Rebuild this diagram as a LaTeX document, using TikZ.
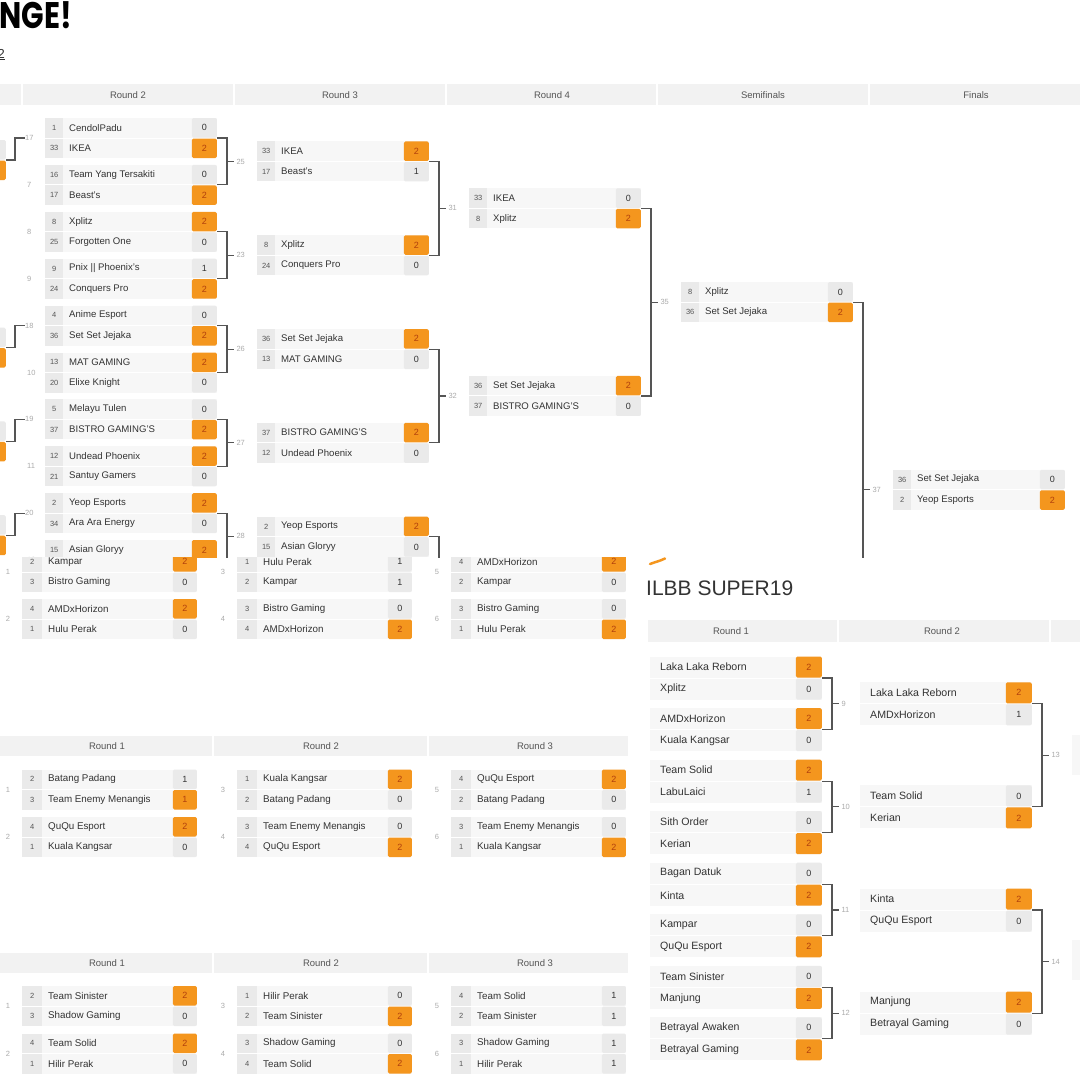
\documentclass[tikz,border=0pt]{standalone}
\usepackage{fontspec}
\setmainfont{Liberation Sans}
\newfontfamily\titlefont{Poppins}
\usepackage{xcolor}
\usepackage{graphicx}
\usetikzlibrary{calc}

\definecolor{headgray}{HTML}{F2F2F2}
\definecolor{rowgray}{HTML}{F7F7F7}
\definecolor{boxgray}{HTML}{EAEAEA}
\definecolor{winfill}{HTML}{F4961E}
\definecolor{wintext}{HTML}{B13F0C}
\definecolor{txt}{HTML}{333333}
\definecolor{seedtxt}{HTML}{555555}
\definecolor{numc}{HTML}{ABABAB}
\definecolor{connc}{HTML}{555555}

% row geometry, changed per bracket block
\def\roww{172pt}\def\rowh{19.5pt}\def\seedw{18pt}\def\namex{24pt}\def\scorew{25pt}\def\rowoff{10.25}
\def\namefont{\fontsize{9.6}{11}\selectfont}

\tikzset{
  rowbg/.style={fill=rowgray, minimum width=\roww, minimum height=\rowh, inner sep=0pt, outer sep=0pt},
  seedbox/.style={fill=boxgray, text=seedtxt, font=\fontsize{7.5}{8}\selectfont, minimum width=\seedw, minimum height=\rowh, inner sep=0pt},
  teamname/.style={text=txt, font=\namefont, inner sep=0pt, xshift=\namex},
  lose/.style={fill=boxgray, text=txt, rounded corners=1.5pt, font=\fontsize{9}{10}\selectfont, minimum width=\scorew, minimum height=\rowh, inner sep=0pt},
  win/.style={lose, fill=winfill, text=wintext},
  conn/.style={draw=connc, line width=1.1pt},
  mnum/.style={text=numc, font=\fontsize{7.5}{8}\selectfont, inner sep=0pt},
  headtxt/.style={text=seedtxt, font=\fontsize{9.5}{11}\selectfont},
}

% one team line: node, x, y, then seed/team/score/style
\def\teamrow#1#2#3#4/#5/#6/#7\relax{%
  \node [rowbg, anchor=west] (#1) at (#2, #3) {};
  \ifx\relax#4\relax\else \node [seedbox, anchor=west] at (#1.west) {#4};\fi
  \node [teamname, anchor=west] at (#1.west) {#5};
  \node [#7, anchor=east] (#1s) at (#1.east) {#6};
}
\newcommand{\game}[5]{%
  \teamrow{#1a}{#2}{#3-\rowoff}#4\relax
  \teamrow{#1b}{#2}{#3+\rowoff}#5\relax
  \coordinate (#1) at ($(#1a.east)!.5!(#1b.east)$);
}
\newcommand{\bracket}[3]{%
  \draw [conn] (#1) -- ++(10, 0) |- (#2);
  \draw [conn] ($(#1)!.5!(#2)+(10, 0)$) -- ++(7, 0) node [mnum, right=2pt] {#3};
}

\begin{document}
\begin{tikzpicture}[x=1pt, y=-1pt]
    \useasboundingbox (0, 0) rectangle (1080, 1080);
    \fill [white] (0, 0) rectangle (1080, 1080);

    \begin{scope}
    \clip (0, 0) rectangle (1080, 557);
    \node [anchor=base east, text=black, inner sep=0pt, font=\titlefont\bfseries\fontsize{37}{37}\selectfont] (ttl) at (72, 28) {\scalebox{0.8}[1]{NGE!}};
    \node [anchor=base east, text=txt, inner sep=0pt, font=\fontsize{13}{14}\selectfont] (lnk) at (5, 58) {\underline{2}};

    \fill [headgray] (0, 84) rectangle (1080, 105);
    \foreach \x in {22, 234, 446, 657, 869}
        \draw [white, line width=1.5pt] (\x, 84) -- (\x, 105);
    \node [headtxt] (hr2) at (128, 95) {Round 2};
    \node [headtxt] (hr3) at (340, 95) {Round 3};
    \node [headtxt] (hr4) at (552, 95) {Round 4};
    \node [headtxt] (hsf) at (763, 95) {Semifinals};
    \node [headtxt] (hfi) at (976, 95) {Finals};

    \foreach \n/\c in {17/160, 18/347.6, 19/441.4, 20/535.2} {
        \node [lose, anchor=east] (q\n a) at (6, \c-10.25) {};
        \node [win, anchor=east] (q\n b) at (6, \c+10.25) {};
        \node [mnum, anchor=west] (n\n) at (25, \c-22) {\n};
        \draw [conn] ($(q\n a.east)!.5!(q\n b.east)$) -- ++(9, 0) |- (n\n.west);
    }
    \foreach \n/\c in {7/184.9, 8/231.8, 9/278.7, 10/372.5, 11/466.3, 12/560.1}
        \node [mnum, anchor=west] (n\n) at (27, \c) {\n};

    \game{m17}{45}{138}{1/CendolPadu/0/lose}{33/IKEA/2/win}
    \game{m7}{45}{184.9}{16/Team Yang Tersakiti/0/lose}{17/Beast's/2/win}
    \game{m8}{45}{231.8}{8/Xplitz/2/win}{25/Forgotten One/0/lose}
    \game{m9}{45}{278.7}{9/Pnix || Phoenix's/1/lose}{24/Conquers Pro/2/win}
    \game{m18}{45}{325.6}{4/Anime Esport/0/lose}{36/Set Set Jejaka/2/win}
    \game{m10}{45}{372.5}{13/MAT GAMING/2/win}{20/Elixe Knight/0/lose}
    \game{m19}{45}{419.4}{5/Melayu Tulen/0/lose}{37/BISTRO GAMING'S/2/win}
    \game{m11}{45}{466.3}{12/Undead Phoenix/2/win}{21/Santuy Gamers/0/lose}
    \game{m20}{45}{513.2}{2/Yeop Esports/2/win}{34/Ara Ara Energy/0/lose}
    \teamrow{m12a}{45}{549.85}15/Asian Gloryy/2/win\relax
    \coordinate (m12) at (m12a.south east);

    \bracket{m17}{m7}{25}
    \bracket{m8}{m9}{23}
    \bracket{m18}{m10}{26}
    \bracket{m19}{m11}{27}
    \bracket{m20}{m12}{28}

    \game{m25}{257}{161.45}{33/IKEA/2/win}{17/Beast's/1/lose}
    \game{m23}{257}{255.25}{8/Xplitz/2/win}{24/Conquers Pro/0/lose}
    \game{m26}{257}{349.05}{36/Set Set Jejaka/2/win}{13/MAT GAMING/0/lose}
    \game{m27}{257}{442.85}{37/BISTRO GAMING'S/2/win}{12/Undead Phoenix/0/lose}
    \game{m28}{257}{536.65}{2/Yeop Esports/2/win}{15/Asian Gloryy/0/lose}

    \bracket{m25}{m23}{31}
    \bracket{m26}{m27}{32}
    \draw [conn] (m28) -- ++(10, 0) -- ++(0, 40);

    \game{m31}{469}{208.35}{33/IKEA/0/lose}{8/Xplitz/2/win}
    \game{m32}{469}{395.95}{36/Set Set Jejaka/2/win}{37/BISTRO GAMING'S/0/lose}
    \bracket{m31}{m32}{35}

    \game{m35}{681}{302.15}{8/Xplitz/0/lose}{36/Set Set Jejaka/2/win}
    \coordinate (m36) at ($(m35)+(0, 375.2)$);
    \bracket{m35}{m36}{37}

    \game{m37}{893}{489.75}{36/Set Set Jejaka/0/lose}{2/Yeop Esports/2/win}
    \end{scope}

    \begin{scope}
    \clip (0, 557) rectangle (645, 1080);
    \def\roww{175pt}\def\seedw{20pt}\def\namex{26pt}\def\scorew{24pt}
    \def\namefont{\fontsize{9.8}{11}\selectfont}

    \game{k1}{22}{572}{2/Kampar/2/win}{3/Bistro Gaming/0/lose}
    \game{k2}{22}{619}{4/AMDxHorizon/2/win}{1/Hulu Perak/0/lose}
    \game{k3}{237}{572}{1/Hulu Perak/1/lose}{2/Kampar/1/lose}
    \game{k4}{237}{619}{3/Bistro Gaming/0/lose}{4/AMDxHorizon/2/win}
    \game{k5}{451}{572}{4/AMDxHorizon/2/win}{2/Kampar/0/lose}
    \game{k6}{451}{619}{3/Bistro Gaming/0/lose}{1/Hulu Perak/2/win}
    \foreach \n/\x/\y in {1/8/572, 2/8/619, 3/223/572, 4/223/619, 5/437/572, 6/437/619}
        \node [mnum] (kn\n) at (\x, \y) {\n};

    \fill [headgray] (0, 736) rectangle (628, 756);
    \foreach \x in {213, 428}
        \draw [white, line width=1.5pt] (\x, 736) -- (\x, 756);
    \node [headtxt] (hb1) at (107, 746) {Round 1};
    \node [headtxt] (hb2) at (321, 746) {Round 2};
    \node [headtxt] (hb3) at (535, 746) {Round 3};

    \game{b1}{22}{789.5}{2/Batang Padang/1/lose}{3/Team Enemy Menangis/1/win}
    \game{b2}{22}{837}{4/QuQu Esport/2/win}{1/Kuala Kangsar/0/lose}
    \game{b3}{237}{789.5}{1/Kuala Kangsar/2/win}{2/Batang Padang/0/lose}
    \game{b4}{237}{837}{3/Team Enemy Menangis/0/lose}{4/QuQu Esport/2/win}
    \game{b5}{451}{789.5}{4/QuQu Esport/2/win}{2/Batang Padang/0/lose}
    \game{b6}{451}{837}{3/Team Enemy Menangis/0/lose}{1/Kuala Kangsar/2/win}
    \foreach \n/\x/\y in {1/8/789.5, 2/8/837, 3/223/789.5, 4/223/837, 5/437/789.5, 6/437/837}
        \node [mnum] (bn\n) at (\x, \y) {\n};

    \fill [headgray] (0, 953) rectangle (628, 973);
    \foreach \x in {213, 428}
        \draw [white, line width=1.5pt] (\x, 953) -- (\x, 973);
    \node [headtxt] (hs1) at (107, 963) {Round 1};
    \node [headtxt] (hs2) at (321, 963) {Round 2};
    \node [headtxt] (hs3) at (535, 963) {Round 3};

    \game{s1}{22}{1006}{2/Team Sinister/2/win}{3/Shadow Gaming/0/lose}
    \game{s2}{22}{1053.5}{4/Team Solid/2/win}{1/Hilir Perak/0/lose}
    \game{s3}{237}{1006}{1/Hilir Perak/0/lose}{2/Team Sinister/2/win}
    \game{s4}{237}{1053.5}{3/Shadow Gaming/0/lose}{4/Team Solid/2/win}
    \game{s5}{451}{1006}{4/Team Solid/1/lose}{2/Team Sinister/1/lose}
    \game{s6}{451}{1053.5}{3/Shadow Gaming/1/lose}{1/Hilir Perak/1/lose}
    \foreach \n/\x/\y in {1/8/1006, 2/8/1053.5, 3/223/1006, 4/223/1053.5, 5/437/1006, 6/437/1053.5}
        \node [mnum] (sn\n) at (\x, \y) {\n};
    \end{scope}

    \begin{scope}
    \clip (645, 557) rectangle (1080, 1080);
    \def\roww{172pt}\def\rowh{21pt}\def\namex{10pt}\def\scorew{26pt}\def\rowoff{11}
    \def\namefont{\fontsize{10.6}{12}\selectfont}

    \draw [winfill, line width=2.5pt, line cap=round] (650, 564) .. controls (655, 562) and (660, 561) .. (665, 558.5);
    \node [anchor=base west, text=txt, inner sep=0pt, font=\fontsize{21}{24}\selectfont] (lbb) at (646, 595) {ILBB SUPER19};

    \fill [headgray] (648, 620) rectangle (1080, 642);
    \foreach \x in {838, 1050}
        \draw [white, line width=1.5pt] (\x, 620) -- (\x, 642);
    \node [headtxt] (hp1) at (731, 631) {Round 1};
    \node [headtxt] (hp2) at (942, 631) {Round 2};
    \fill [rowgray] (1072, 735) rectangle (1080, 775);
    \fill [rowgray] (1072, 940) rectangle (1080, 980);

    \game{p1}{650}{678}{/Laka Laka Reborn/2/win}{/Xplitz/0/lose}
    \game{p2}{650}{729.55}{/AMDxHorizon/2/win}{/Kuala Kangsar/0/lose}
    \game{p3}{650}{781.1}{/Team Solid/2/win}{/LabuLaici/1/lose}
    \game{p4}{650}{832.65}{/Sith Order/0/lose}{/Kerian/2/win}
    \game{p5}{650}{884.2}{/Bagan Datuk/0/lose}{/Kinta/2/win}
    \game{p6}{650}{935.75}{/Kampar/0/lose}{/QuQu Esport/2/win}
    \game{p7}{650}{987.3}{/Team Sinister/0/lose}{/Manjung/2/win}
    \game{p8}{650}{1038.85}{/Betrayal Awaken/0/lose}{/Betrayal Gaming/2/win}

    \bracket{p1}{p2}{9}
    \bracket{p3}{p4}{10}
    \bracket{p5}{p6}{11}
    \bracket{p7}{p8}{12}

    \game{p9}{860}{703.8}{/Laka Laka Reborn/2/win}{/AMDxHorizon/1/lose}
    \game{p10}{860}{806.9}{/Team Solid/0/lose}{/Kerian/2/win}
    \game{p11}{860}{910}{/Kinta/2/win}{/QuQu Esport/0/lose}
    \game{p12}{860}{1013.1}{/Manjung/2/win}{/Betrayal Gaming/0/lose}

    \bracket{p9}{p10}{13}
    \bracket{p11}{p12}{14}
    \end{scope}
\end{tikzpicture}
\end{document}
